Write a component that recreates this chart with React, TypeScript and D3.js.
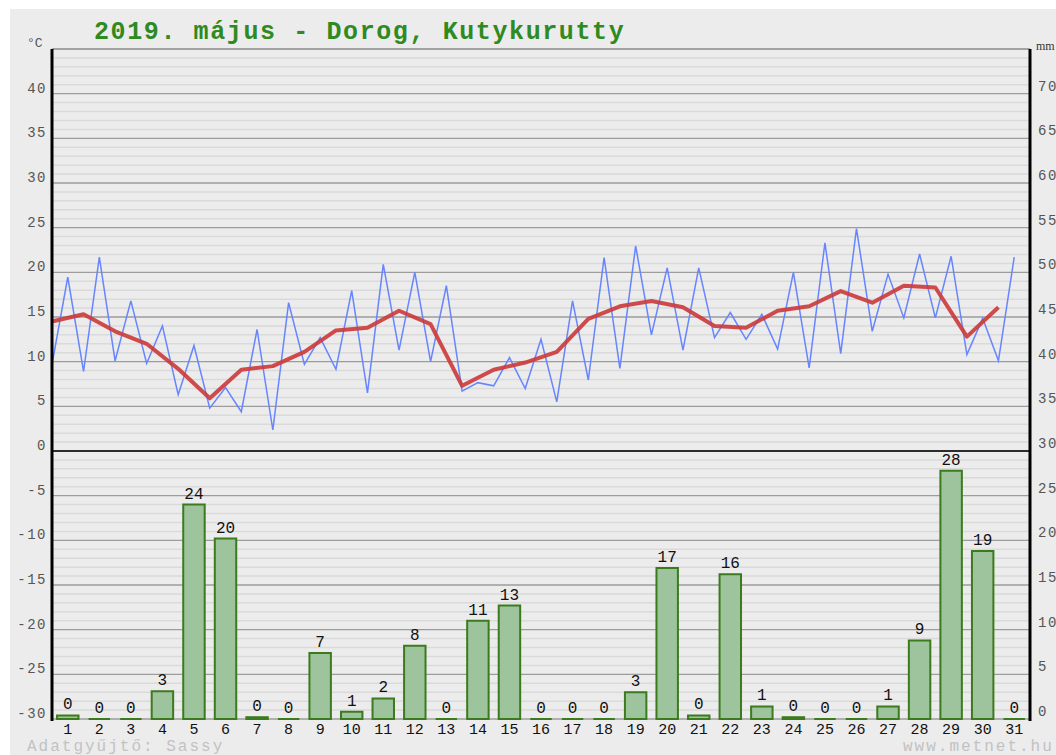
import * as d3 from 'd3';

// May 2019, Dorog - daily values
const days = d3.range(1, 32);

// blue zigzag: first point of each day (low) and mid-day point (high)
const tempLow = [
  9.7, 8.9, 10.1, 9.8, 6.3, 4.8, 4.4, 2.35, 9.7, 9.15, 6.5, 11.3, 10.0, 6.7, 7.3, 7.0,
  5.5, 7.95, 9.25, 13.0, 11.3, 12.7, 12.5, 11.4, 9.3, 10.9, 13.4, 14.9, 14.9, 10.8, 10.1,
];
const tempHigh = [
  19.45, 21.7, 16.8, 14.0, 11.8, 7.1, 13.6, 16.6, 12.7, 17.95, 20.9, 20.0, 18.5, 7.65, 10.45, 12.5,
  16.8, 21.65, 22.95, 20.5, 20.5, 15.5, 15.3, 20.0, 23.3, 24.9, 19.8, 22.05, 21.8, 14.85, 21.7,
];
// red: daily mean
const tempMean = [
  14.5, 15.3, 13.4, 12.0, 9.2, 5.9, 9.1, 9.5, 11.1, 13.5, 13.8, 15.7, 14.2, 7.3, 9.1, 9.9,
  11.1, 14.8, 16.2, 16.8, 16.1, 14.0, 13.8, 15.7, 16.2, 17.9, 16.6, 18.5, 18.3, 12.8, 16.1,
];
// precipitation, mm
const precip = [
  0.4, 0, 0, 3.1, 24.0, 20.2, 0.2, 0, 7.4, 0.8, 2.3, 8.2, 0, 11.0, 12.7, 0,
  0, 0, 3.0, 16.9, 0.4, 16.2, 1.4, 0.2, 0, 0, 1.4, 8.8, 27.8, 18.8, 0,
];

const tempTicks = d3.range(-30, 41, 5);
const mmTicks = d3.range(0, 71, 5);

const W = 1056;
const H = 755;
const left = 52;
const right = 1030;
const top = 49;
const bottom = 719;

const MONO = '"Liberation Mono", "DejaVu Sans Mono", monospace';

export default function App() {
  const y = d3.scaleLinear().domain([-30, 45]).range([bottom, top]);
  const yMm = d3.scaleLinear().domain([0, 75]).range([bottom, top]);
  const x = d3.scaleLinear().domain([0, 31]).range([left, right]);
  const xb = d3
    .scaleBand<number>()
    .domain(days)
    .range([left, right])
    .paddingInner(0.32)
    .paddingOuter(0.16);

  // blue: low at start of day, high at half day
  const bluePts: [number, number][] = [];
  days.forEach((d, i) => {
    bluePts.push([x(d - 1), y(tempLow[i])]);
    bluePts.push([x(d - 0.5), y(tempHigh[i])]);
  });
  const redPts: [number, number][] = days.map((d, i) => [x(d - 1), y(tempMean[i])]);
  const line = d3.line();

  const minor = d3.range(-30, 45.1, 1).filter((v) => v % 5 !== 0);

  return (
    <svg
      width={W}
      height={H}
      style={{ position: 'absolute', left: 0, top: 0, background: '#fff' }}
    >
      <rect x={10} y={9} width={W - 10} height={H - 9} fill="#ececec" />

      {/* minor grid */}
      {minor.map((v) => (
        <line key={'m' + v} x1={left} x2={right} y1={y(v)} y2={y(v)} stroke="#dadada" strokeWidth={1.5} />
      ))}
      {/* major grid */}
      {tempTicks.map((v) => (
        <line key={'g' + v} x1={left} x2={right} y1={y(v)} y2={y(v)} stroke="#9c9c9c" strokeWidth={1.3} />
      ))}
      <line x1={left} x2={right} y1={y(45)} y2={y(45)} stroke="#8a8a8a" strokeWidth={1.5} />
      <line x1={left} x2={right} y1={y(0)} y2={y(0)} stroke="#000" strokeWidth={1.6} />

      {/* precipitation bars */}
      {days.map((d, i) => {
        const bx = xb(d) || 0;
        const bw = xb.bandwidth();
        const y0 = yMm(0);
        const y1 = yMm(precip[i]);
        return (
          <path
            key={'b' + d}
            d={`M${bx},${y0}V${y1}H${bx + bw}V${y0}Z`}
            fill="#9dc49d"
            stroke="#3c7a1e"
            strokeWidth={2}
          />
        );
      })}
      {days.map((d, i) => (
        <text
          key={'bl' + d}
          x={(xb(d) || 0) + xb.bandwidth() / 2}
          y={yMm(precip[i]) - 6}
          textAnchor="middle"
          fontFamily={MONO}
          fontSize={16}
          fill="#111"
        >
          {Math.round(precip[i])}
        </text>
      ))}

      {/* temperatures */}
      <path d={line(bluePts) || ''} fill="none" stroke="#6685ff" strokeWidth={1.5} strokeLinejoin="miter" />
      <path d={line(redPts) || ''} fill="none" stroke="#cc3a3a" strokeWidth={4} strokeOpacity={0.9} strokeLinejoin="round" />

      {/* axes */}
      <line x1={left} x2={left} y1={top} y2={bottom + 2} stroke="#000" strokeWidth={3} />
      <line x1={right} x2={right} y1={top} y2={bottom + 2} stroke="#000" strokeWidth={3} />

      {tempTicks.map((v) => (
        <text
          key={'lt' + v}
          x={47}
          y={y(v) - 1}
          textAnchor="end"
          fontFamily={MONO}
          fontSize={14}
          letterSpacing={1.5}
          fill="#555"
        >
          {v}
        </text>
      ))}
      {mmTicks.map((v) => (
        <text
          key={'rt' + v}
          x={1038}
          y={yMm(v) - 3}
          fontFamily={MONO}
          fontSize={14}
          letterSpacing={1.5}
          fill="#555"
        >
          {v}
        </text>
      ))}
      {days.map((d) => (
        <text
          key={'xt' + d}
          x={(xb(d) || 0) + xb.bandwidth() / 2}
          y={734}
          textAnchor="middle"
          fontFamily={MONO}
          fontSize={15}
          fill="#111"
        >
          {d}
        </text>
      ))}

      <text x={27} y={47} fontFamily={MONO} fontSize={13} fill="#555">
        °C
      </text>
      <text x={1036} y={50} fontFamily='"Liberation Serif", serif' fontSize={12} fill="#333">
        mm
      </text>

      <text
        x={94}
        y={39}
        fontFamily={MONO}
        fontWeight="bold"
        fontSize={25}
        letterSpacing={1.6}
        fill="#2f8a1f"
      >
        2019. május - Dorog, Kutykurutty
      </text>

      <text x={27} y={751} fontFamily={MONO} fontSize={16} letterSpacing={2} fill="#c2c2c2">
        Adatgyűjtő: Sassy
      </text>
      <text x={903} y={751} fontFamily={MONO} fontSize={16} letterSpacing={2} fill="#c2c2c2">
        www.metnet.hu
      </text>
    </svg>
  );
}
